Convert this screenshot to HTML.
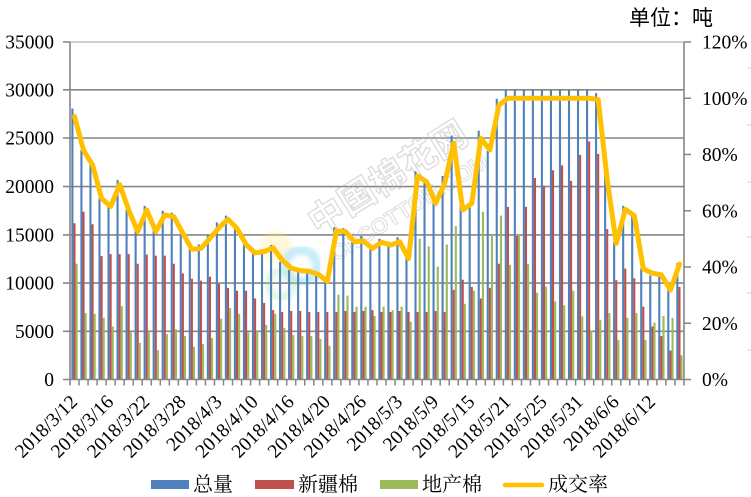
<!DOCTYPE html>
<html><head><meta charset="utf-8"><style>
html,body{margin:0;padding:0;background:#fff;}
svg{display:block;}
.n{font-family:"Liberation Serif",serif;font-size:19.5px;fill:#000;}
.d{font-family:"Liberation Serif",serif;font-size:19.5px;fill:#000;}
.lg{font-family:"Liberation Serif","Noto Serif CJK SC",serif;font-size:20px;fill:#000;}
.u{font-family:"Liberation Sans","Noto Sans CJK SC",sans-serif;font-size:21px;fill:#000;}
</style></head><body>
<svg width="751" height="497" viewBox="0 0 751 497" xmlns="http://www.w3.org/2000/svg">
<defs><filter id="bl"><feGaussianBlur stdDeviation="2.5"/></filter></defs>
<rect width="751" height="497" fill="#fff"/>
<text class="u" x="629" y="25">单位：吨</text>

<!-- gridlines -->
<line x1="70" y1="42" x2="684" y2="42" stroke="#c0c0c0" stroke-width="1.5"/>
<g stroke="#868686" stroke-width="1.6">
<line x1="70" y1="89.8" x2="684" y2="89.8"/>
<line x1="70" y1="138" x2="684" y2="138"/>
<line x1="70" y1="186.6" x2="684" y2="186.6"/>
<line x1="70" y1="234.9" x2="684" y2="234.9"/>
<line x1="70" y1="283.1" x2="684" y2="283.1"/>
<line x1="70" y1="331.3" x2="684" y2="331.3"/>
</g>

<!-- watermark -->
<g opacity="0.5">
<circle cx="276" cy="247" r="16" fill="#ffe680" filter="url(#bl)" opacity="0.6"/>
<circle cx="301" cy="266" r="16" fill="none" stroke="#5cc8f0" stroke-width="9" filter="url(#bl)" opacity="0.7"/>
<circle cx="281" cy="284" r="13" fill="none" stroke="#9be0a0" stroke-width="8" filter="url(#bl)" opacity="0.6"/>
<text transform="translate(318,236) rotate(-32)" font-family="'Liberation Sans','Noto Sans CJK SC',sans-serif" font-size="36" font-weight="bold" fill="none" stroke="#b8b8b8" stroke-width="1.3">中国棉花网</text>
<text transform="translate(336,262) rotate(-32)" font-family="'Liberation Sans',sans-serif" font-size="22" font-weight="bold" fill="none" stroke="#c0c0c0" stroke-width="1.1">CNCOTTON.COM</text>
</g>

<!-- bars -->
<g transform="translate(70,379.5) scale(9.029,-9.6429)">
<path fill="#4F81BD" d="M0.15 0h.233v28.1h-.233zM1.15 0h.233v23.8h-.233zM2.15 0h.233v22.8h-.233zM3.15 0h.233v18.8h-.233zM4.15 0h.233v18.1h-.233zM5.15 0h.233v20.7h-.233zM6.15 0h.233v17.6h-.233zM7.15 0h.233v15.5h-.233zM8.15 0h.233v18h-.233zM9.15 0h.233v15.4h-.233zM10.15 0h.233v17.5h-.233zM11.15 0h.233v17.3h-.233zM12.15 0h.233v15.1h-.233zM13.15 0h.233v13.5h-.233zM14.15 0h.233v14h-.233zM15.15 0h.233v15h-.233zM16.15 0h.233v16.3h-.233zM17.15 0h.233v17h-.233zM18.15 0h.233v15.9h-.233zM19.15 0h.233v14.1h-.233zM20.15 0h.233v13.1h-.233zM21.15 0h.233v13.5h-.233zM22.15 0h.233v13.95h-.233zM23.15 0h.233v12.2h-.233zM24.15 0h.233v11.35h-.233zM25.15 0h.233v11.2h-.233zM26.15 0h.233v11h-.233zM27.15 0h.233v10.8h-.233zM28.15 0h.233v10.5h-.233zM29.15 0h.233v15.8h-.233zM30.15 0h.233v15.7h-.233zM31.15 0h.233v14.3h-.233zM32.15 0h.233v14.9h-.233zM33.15 0h.233v13.6h-.233zM34.15 0h.233v14.6h-.233zM35.15 0h.233v14.3h-.233zM36.15 0h.233v14.75h-.233zM37.15 0h.233v12.8h-.233zM38.15 0h.233v21.6h-.233zM39.15 0h.233v20.9h-.233zM40.15 0h.233v18.7h-.233zM41.15 0h.233v21.1h-.233zM42.15 0h.233v25.3h-.233zM43.15 0h.233v18h-.233zM44.15 0h.233v18.3h-.233zM45.15 0h.233v25.8h-.233zM46.15 0h.233v23.7h-.233zM47.15 0h.233v29.1h-.233zM48.15 0h.233v30h-.233zM49.15 0h.233v30h-.233zM50.15 0h.233v30h-.233zM51.15 0h.233v30h-.233zM52.15 0h.233v30h-.233zM53.15 0h.233v30h-.233zM54.15 0h.233v30h-.233zM55.15 0h.233v30h-.233zM56.15 0h.233v30h-.233zM57.15 0h.233v30h-.233zM58.15 0h.233v29.7h-.233zM59.15 0h.233v22h-.233zM60.15 0h.233v14.3h-.233zM61.15 0h.233v18h-.233zM62.15 0h.233v16.95h-.233zM63.15 0h.233v11.5h-.233zM64.15 0h.233v10.8h-.233zM65.15 0h.233v10.7h-.233zM66.15 0h.233v9.3h-.233zM67.15 0h.233v12.05h-.233z"/>
<path fill="#C0504D" d="M0.383 0h.233v16.2h-.233zM1.383 0h.233v17.4h-.233zM2.383 0h.233v16.1h-.233zM3.383 0h.233v12.8h-.233zM4.383 0h.233v13h-.233zM5.383 0h.233v13h-.233zM6.383 0h.233v13h-.233zM7.383 0h.233v12h-.233zM8.383 0h.233v12.95h-.233zM9.383 0h.233v12.85h-.233zM10.383 0h.233v12.85h-.233zM11.383 0h.233v12h-.233zM12.383 0h.233v11h-.233zM13.383 0h.233v10.45h-.233zM14.383 0h.233v10.25h-.233zM15.383 0h.233v10.65h-.233zM16.383 0h.233v9.9h-.233zM17.383 0h.233v9.5h-.233zM18.383 0h.233v9.2h-.233zM19.383 0h.233v9.2h-.233zM20.383 0h.233v8.4h-.233zM21.383 0h.233v7.95h-.233zM22.383 0h.233v7.2h-.233zM23.383 0h.233v7h-.233zM24.383 0h.233v7.1h-.233zM25.383 0h.233v7.1h-.233zM26.383 0h.233v7h-.233zM27.383 0h.233v7h-.233zM28.383 0h.233v7h-.233zM29.383 0h.233v7h-.233zM30.383 0h.233v7.1h-.233zM31.383 0h.233v7h-.233zM32.383 0h.233v7.1h-.233zM33.383 0h.233v7.2h-.233zM34.383 0h.233v7h-.233zM35.383 0h.233v7h-.233zM36.383 0h.233v7.1h-.233zM37.383 0h.233v7h-.233zM38.383 0h.233v7h-.233zM39.383 0h.233v7h-.233zM40.383 0h.233v7.1h-.233zM41.383 0h.233v7h-.233zM42.383 0h.233v9.3h-.233zM43.383 0h.233v10.35h-.233zM44.383 0h.233v9.6h-.233zM45.383 0h.233v8.4h-.233zM46.383 0h.233v9.5h-.233zM47.383 0h.233v12h-.233zM48.383 0h.233v17.9h-.233zM49.383 0h.233v14.9h-.233zM50.383 0h.233v17.9h-.233zM51.383 0h.233v20.9h-.233zM52.383 0h.233v20.1h-.233zM53.383 0h.233v21.7h-.233zM54.383 0h.233v22.2h-.233zM55.383 0h.233v20.6h-.233zM56.383 0h.233v23.3h-.233zM57.383 0h.233v24.7h-.233zM58.383 0h.233v23.4h-.233zM59.383 0h.233v15.6h-.233zM60.383 0h.233v10.3h-.233zM61.383 0h.233v11.5h-.233zM62.383 0h.233v10.5h-.233zM63.383 0h.233v7.55h-.233zM64.383 0h.233v5.5h-.233zM65.383 0h.233v4.5h-.233zM66.383 0h.233v3h-.233zM67.383 0h.233v9.6h-.233z"/>
<path fill="#9BBB59" d="M0.616 0h.233v12h-.233zM1.616 0h.233v6.9h-.233zM2.616 0h.233v6.8h-.233zM3.616 0h.233v6.4h-.233zM4.616 0h.233v5.5h-.233zM5.616 0h.233v7.6h-.233zM6.616 0h.233v4.9h-.233zM7.616 0h.233v3.8h-.233zM8.616 0h.233v5h-.233zM9.616 0h.233v3.05h-.233zM10.616 0h.233v4.7h-.233zM11.616 0h.233v5.2h-.233zM12.616 0h.233v4.5h-.233zM13.616 0h.233v3.4h-.233zM14.616 0h.233v3.7h-.233zM15.616 0h.233v4.3h-.233zM16.616 0h.233v6.3h-.233zM17.616 0h.233v7.4h-.233zM18.616 0h.233v6.8h-.233zM19.616 0h.233v4.9h-.233zM20.616 0h.233v5h-.233zM21.616 0h.233v5.65h-.233zM22.616 0h.233v6.8h-.233zM23.616 0h.233v5.35h-.233zM24.616 0h.233v4.6h-.233zM25.616 0h.233v4.5h-.233zM26.616 0h.233v4.5h-.233zM27.616 0h.233v4.2h-.233zM28.616 0h.233v3.5h-.233zM29.616 0h.233v8.8h-.233zM30.616 0h.233v8.7h-.233zM31.616 0h.233v7.55h-.233zM32.616 0h.233v7.55h-.233zM33.616 0h.233v6.6h-.233zM34.616 0h.233v7.55h-.233zM35.616 0h.233v7.2h-.233zM36.616 0h.233v7.55h-.233zM37.616 0h.233v6h-.233zM38.616 0h.233v14.6h-.233zM39.616 0h.233v13.8h-.233zM40.616 0h.233v11.7h-.233zM41.616 0h.233v14h-.233zM42.616 0h.233v15.9h-.233zM43.616 0h.233v7.85h-.233zM44.616 0h.233v9.2h-.233zM45.616 0h.233v17.4h-.233zM46.616 0h.233v15h-.233zM47.616 0h.233v17h-.233zM48.616 0h.233v11.9h-.233zM49.616 0h.233v15h-.233zM50.616 0h.233v12h-.233zM51.616 0h.233v9h-.233zM52.616 0h.233v9.65h-.233zM53.616 0h.233v8.1h-.233zM54.616 0h.233v7.7h-.233zM55.616 0h.233v9.2h-.233zM56.616 0h.233v6.55h-.233zM57.616 0h.233v5.1h-.233zM58.616 0h.233v6.2h-.233zM59.616 0h.233v6.9h-.233zM60.616 0h.233v4.1h-.233zM61.616 0h.233v6.4h-.233zM62.616 0h.233v6.9h-.233zM63.616 0h.233v4.1h-.233zM64.616 0h.233v5.9h-.233zM65.616 0h.233v6.6h-.233zM66.616 0h.233v6.4h-.233zM67.616 0h.233v2.5h-.233z"/>
</g>

<!-- line series -->
<g transform="translate(70,379.5) scale(9.029,-2.8125)">
<polyline fill="none" stroke="#FFC000" stroke-width="5" stroke-linejoin="round" stroke-linecap="round" vector-effect="non-scaling-stroke" points="0.5,93.5 1.5,81.5 2.5,76.3 3.5,64.4 4.5,61.5 5.5,69.3 6.5,60.3 7.5,52.6 8.5,60.3 9.5,52.6 10.5,58.5 11.5,57.9 12.5,52 13.5,46.3 14.5,46.6 15.5,50.2 16.5,54 17.5,57 18.5,53.7 19.5,48 20.5,45 21.5,45.5 22.5,46.8 23.5,42.5 24.5,39.6 25.5,38.7 26.5,38.5 27.5,37.4 28.5,34.9 29.5,52.8 30.5,52.6 31.5,49 32.5,49.2 33.5,46.6 34.5,48.8 35.5,47.8 36.5,49 37.5,43 38.5,72.4 39.5,70.3 40.5,62.6 41.5,69.8 42.5,84 43.5,60.3 44.5,62.6 45.5,85.8 46.5,81.6 47.5,97.5 48.5,100 49.5,100 50.5,100 51.5,100 52.5,100 53.5,100 54.5,100 55.5,100 56.5,100 57.5,100 58.5,99.5 59.5,71 60.5,48.4 61.5,60.5 62.5,58.3 63.5,39.3 64.5,37.8 65.5,37.2 66.5,31.8 67.5,41"/>
</g>

<!-- axes -->
<g stroke="#868686" stroke-width="1.6" fill="none">
<line x1="70" y1="42" x2="70" y2="380"/>
<line x1="684" y1="42" x2="684" y2="380"/>
<line x1="69" y1="379.5" x2="685" y2="379.5"/>
<path d="M63 42H70M63 89.8H70M63 138H70M63 186.6H70M63 234.9H70M63 283.1H70M63 331.3H70M63 379.5H70"/>
<path d="M684 42H691M684 98.25H691M684 154.5H691M684 210.75H691M684 267H691M684 323.25H691M684 379.5H691"/>
</g>
<line x1="69.25" y1="382.5" x2="685" y2="382.5" stroke="#868686" stroke-width="6" stroke-dasharray="1.5 7.529"/>
<g stroke="#d0d0d0" stroke-width="1">
<path d="M747 68H751M747 125H751M747 182H751M747 237H751M747 293H751M747 350H751"/>
</g>

<!-- left labels -->
<g class="n" text-anchor="end">
<text x="54" y="48.5">35000</text>
<text x="54" y="96.3">30000</text>
<text x="54" y="144.5">25000</text>
<text x="54" y="193.1">20000</text>
<text x="54" y="241.4">15000</text>
<text x="54" y="289.6">10000</text>
<text x="54" y="337.8">5000</text>
<text x="54" y="386">0</text>
</g>
<!-- right labels -->
<g class="n">
<text x="702" y="48.5">120%</text>
<text x="702" y="104.8">100%</text>
<text x="702" y="161">80%</text>
<text x="702" y="217.3">60%</text>
<text x="702" y="273.5">40%</text>
<text x="702" y="329.8">20%</text>
<text x="702" y="386">0%</text>
</g>

<!-- date labels -->
<g class="d" text-anchor="end">
<text transform="translate(78.5,403) rotate(-45)">2018/3/12</text>
<text transform="translate(114.6,403) rotate(-45)">2018/3/16</text>
<text transform="translate(150.7,403) rotate(-45)">2018/3/22</text>
<text transform="translate(186.9,403) rotate(-45)">2018/3/28</text>
<text transform="translate(223,403) rotate(-45)">2018/4/3</text>
<text transform="translate(259.1,403) rotate(-45)">2018/4/10</text>
<text transform="translate(295.2,403) rotate(-45)">2018/4/16</text>
<text transform="translate(331.3,403) rotate(-45)">2018/4/20</text>
<text transform="translate(367.4,403) rotate(-45)">2018/4/26</text>
<text transform="translate(403.5,403) rotate(-45)">2018/5/3</text>
<text transform="translate(439.7,403) rotate(-45)">2018/5/9</text>
<text transform="translate(475.8,403) rotate(-45)">2018/5/15</text>
<text transform="translate(511.9,403) rotate(-45)">2018/5/21</text>
<text transform="translate(548,403) rotate(-45)">2018/5/25</text>
<text transform="translate(584.1,403) rotate(-45)">2018/5/31</text>
<text transform="translate(620.2,403) rotate(-45)">2018/6/6</text>
<text transform="translate(656.4,403) rotate(-45)">2018/6/12</text>
</g>

<!-- legend -->
<rect x="151" y="480" width="38" height="9" fill="#4F81BD"/>
<text class="lg" x="193" y="491">总量</text>
<rect x="255" y="480" width="39" height="9" fill="#C0504D"/>
<text class="lg" x="298" y="491">新疆棉</text>
<rect x="380" y="480" width="38" height="9" fill="#9BBB59"/>
<text class="lg" x="422" y="491">地产棉</text>
<line x1="505" y1="485" x2="542" y2="485" stroke="#FFC000" stroke-width="4.5" stroke-linecap="round"/>
<text class="lg" x="548" y="491">成交率</text>
</svg>
</body></html>
